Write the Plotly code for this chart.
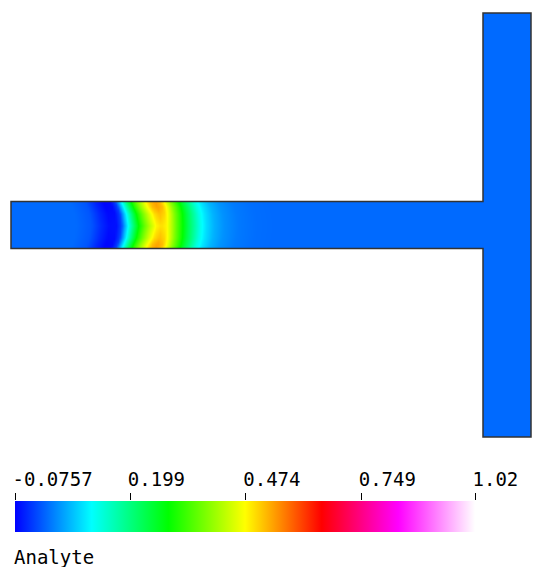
import numpy as np
import plotly.graph_objects as go

# ---- data ----
# concentration profile along the horizontal channel (near the wall), x in px units
profile_x = [11, 70, 85, 95, 103, 110, 115, 119, 122, 127, 132, 138, 144, 150, 155,
             160, 165, 170, 176, 182, 188, 194, 200, 208, 218, 232, 250, 270, 483]
profile_v = [0, 0, -0.015, -0.05, -0.072, -0.07, -0.03, 0.06, 0.12, 0.22, 0.31, 0.39,
             0.46, 0.52, 0.54, 0.52, 0.46, 0.39, 0.32, 0.25, 0.19, 0.13, 0.09, 0.055,
             0.03, 0.012, 0.003, 0, 0]
# across-channel shape of the band (parabolic flow front)
across_frac = [0, 0.1, 0.25, 0.5, 0.75, 0.9, 1.0]
across_shift = [0, 2, 4.5, 6, 4.5, 2, 0]
across_gain = [1.0, 1.0, 0.96, 0.92, 0.96, 1.0, 1.0]
vertical_value = 0.0

tick_vals = [-0.0757, 0.199, 0.474, 0.749, 1.02]
tick_text = ["-0.0757", "0.199", "0.474", "0.749", "1.02"]
cmin, cmax = -0.0757, 1.02
colorbar_title = "Analyte"

# ---- geometry (px units) ----
W, H = 544, 567
hx0, hx1, hy0, hy1 = 11, 483, 201.5, 248.5   # horizontal channel
vx0, vx1, vy0, vy1 = 483, 531, 13, 437       # vertical channel

colorscale = [[0, "#0000ff"], [1/6, "#00ffff"], [1/3, "#00ff00"], [0.5, "#ffff00"],
              [2/3, "#ff0000"], [5/6, "#ff00ff"], [1, "#ffffff"]]

# build horizontal-channel field from the read arrays
dx = 2
xs = np.arange(hx0 + dx / 2, hx1 + 1, dx)
ys = np.arange(hy0 + 0.5, hy1, 1.0)
z = []
for y in ys:
    f = (y - hy0) / (hy1 - hy0)
    s = np.interp(f, across_frac, across_shift)
    g = np.interp(f, across_frac, across_gain)
    z.append(g * np.interp(xs - s, profile_x, profile_v))
z = np.array(z)

fig = go.Figure()
fig.add_trace(go.Heatmap(
    z=[[vertical_value, vertical_value], [vertical_value, vertical_value]],
    x=[vx0 + (vx1 - vx0) / 4, vx0 + 3 * (vx1 - vx0) / 4],
    y=[vy0 + (vy1 - vy0) / 4, vy0 + 3 * (vy1 - vy0) / 4],
    coloraxis="coloraxis", hoverinfo="skip"))
fig.add_trace(go.Heatmap(z=z, x=xs, y=ys, coloraxis="coloraxis", zsmooth="best",
                         hoverinfo="skip"))
# invisible point so the colour-bar tick axis is drawn
fig.add_trace(go.Scatter(x=[cmin], y=[0.5], xaxis="x2", yaxis="y2", mode="markers",
                         marker=dict(opacity=0), hoverinfo="skip", showlegend=False))

outline = (f"M {hx0},{hy0} L {vx0},{hy0} L {vx0},{vy0} L {vx1},{vy0} L {vx1},{vy1} "
           f"L {vx0},{vy1} L {vx0},{hy1} L {hx0},{hy1} Z")
fig.add_shape(type="path", path=outline, xref="x", yref="y",
              line=dict(color="#333333", width=1.5))

bar_l, bar_r, bar_t, bar_b = 15, 475, 501, 532
mono = "DejaVu Sans Mono"
fsize = 19

fig.update_layout(
    width=W, height=H, margin=dict(l=0, r=0, t=0, b=0, autoexpand=False),
    paper_bgcolor="white", plot_bgcolor="white", showlegend=False,
    xaxis=dict(range=[0, W], visible=False, domain=[0, 1], automargin=False),
    yaxis=dict(range=[H, 0], visible=False, domain=[0, 1], automargin=False),
    coloraxis=dict(
        colorscale=colorscale, cmin=cmin, cmax=cmax,
        colorbar=dict(orientation="h", x=(bar_l + bar_r) / 2 / W, xanchor="center",
                      y=1 - bar_b / H, yanchor="bottom", len=bar_r - bar_l,
                      lenmode="pixels", thickness=bar_b - bar_t, xpad=0, ypad=0,
                      outlinewidth=0, showticklabels=False, ticks="")),
    xaxis2=dict(domain=[bar_l / W, bar_r / W], range=[cmin, cmax], anchor="y2",
                side="top", tickvals=tick_vals, ticktext=tick_text, ticks="outside",
                ticklen=7, tickcolor="#000", tickwidth=1, showgrid=False,
                zeroline=False, showline=False, ticklabelposition="outside right",
                ticklabelstandoff=6, ticklabelshift=-3, automargin=False,
                tickfont=dict(family=mono, size=fsize, color="#000")),
    yaxis2=dict(domain=[1 - bar_b / H, 1 - bar_t / H], anchor="x2", visible=False,
                range=[0, 1], automargin=False),
    annotations=[dict(text=colorbar_title, xref="paper", yref="paper", x=12 / W,
                      y=0, xanchor="left", yanchor="bottom", showarrow=False,
                      yshift=-3,
                      font=dict(family=mono, size=fsize, color="#000"))],
)

fig.write_html("out.html")
